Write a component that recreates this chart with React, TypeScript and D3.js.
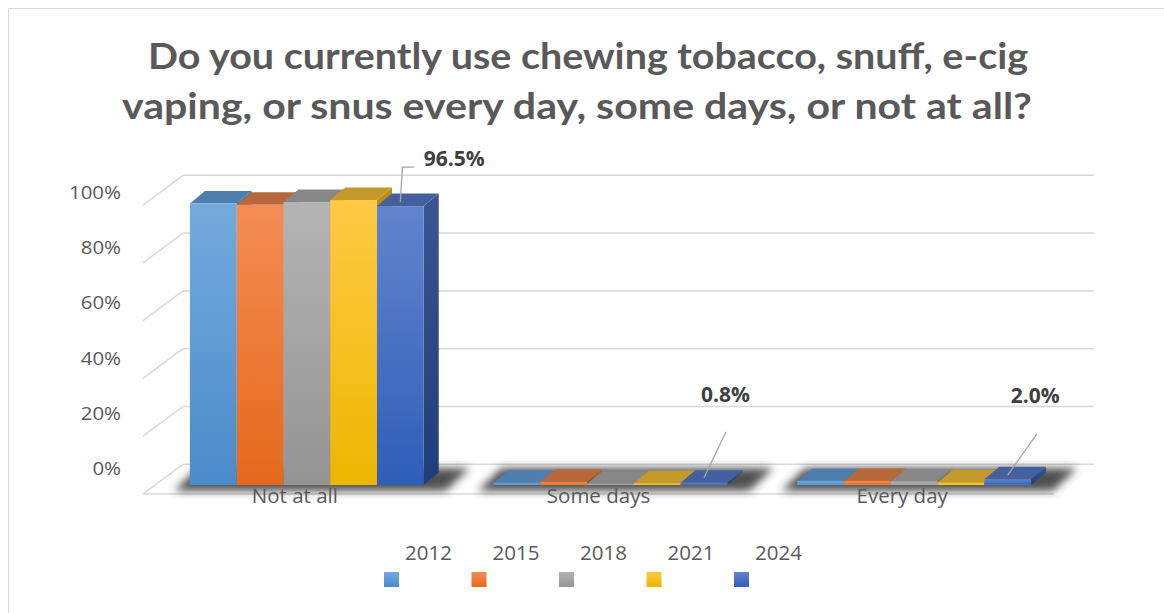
import React from "react";
import * as d3 from "d3";

const categories = ["Not at all", "Some days", "Every day"];
const years = ["2012", "2015", "2018", "2021", "2024"];
const values2012 = [97.4, 0.8, 1.4];
const values2015 = [97.0, 1.1, 1.4];
const values2018 = [97.9, 0.4, 1.3];
const values2021 = [98.6, 0.6, 0.9];
const values2024 = [96.5, 0.8, 2.0];
const seriesValues = [values2012, values2015, values2018, values2021, values2024];
const ticks = [0, 20, 40, 60, 80, 100];
const labelled = [
  { cat: 0, year: 4, text: "96.5%" },
  { cat: 1, year: 4, text: "0.8%" },
  { cat: 2, year: 4, text: "2.0%" },
];

const palette = [
  { ft: "#74abde", fb: "#4a8bcb", top: "#4e7eae", st: "#3f6d9c", sb: "#2d5a88", edge: "#5b9bd5" },
  { ft: "#f48d55", fb: "#e4691b", top: "#b8693c", st: "#b45d27", sb: "#9a4c19", edge: "#ed7d31" },
  { ft: "#b4b4b4", fb: "#949494", top: "#878787", st: "#7c7c7c", sb: "#6a6a6a", edge: "#a5a5a5" },
  { ft: "#ffca45", fb: "#ebb700", top: "#c49a2b", st: "#b98f16", sb: "#9e7a08", edge: "#ffc000" },
  { ft: "#6384cd", fb: "#2e5eb8", top: "#44609f", st: "#3a5690", sb: "#1f3d78", edge: "#4472c4" },
];

const FONT = "'Open Sans', 'DejaVu Sans', sans-serif";
const TITLE_FONT = "Lato, 'Open Sans', sans-serif";

export default function App() {
  const W = 1164, H = 613;
  const WDX = 40; // floor/wall depth x offset
  const BDX = 15, BDY = -12.5; // bar depth
  const wallY = d3.scaleLinear().domain([0, 100]).range([464.3, 175.3]);
  const frontY = d3.scaleLinear().domain([0, 100]).range([494, 205]);
  const barY = d3.scaleLinear().domain([0, 100]).range([485, 196]);
  const tickLabelY = d3.scaleLinear().domain([0, 100]).range([475, 199]);
  const floorLeft = 143, floorRight = 1054;
  const xBand = d3.scaleBand<string>().domain(categories).range([155, 1066]).paddingInner(0.23).paddingOuter(0.115);
  const yearBand = d3.scaleBand<string>().domain(years).range([0, xBand.bandwidth()]);

  const pts = (a: number[][]) => a.map((p) => p.join(",")).join(" ");

  const labelOffsets = [
    { tx: 23.5, ty: -40.6, path: (x: number, y: number) => `M${x},${y - 4}L${x + 2},${y - 39}L${x + 13.5},${y - 39}`, anchor: "start" },
    { tx: 21.5, ty: -81, path: (x: number, y: number) => `M${x},${y - 5}L${x + 22},${y - 51}`, anchor: "middle" },
    { tx: 27.5, ty: -76.5, path: (x: number, y: number) => `M${x},${y - 4}L${x + 29},${y - 45}`, anchor: "middle" },
  ];

  return (
    <svg width={W} height={H} style={{ position: "absolute", left: 0, top: 0, background: "#fff" }}>
      <defs>
        {palette.map((c, i) => (
          <linearGradient key={"f" + i} id={"front" + i} x1="0" y1="0" x2="0" y2="1">
            <stop offset="0" stopColor={c.ft} />
            <stop offset="1" stopColor={c.fb} />
          </linearGradient>
        ))}
        {palette.map((c, i) => (
          <linearGradient key={"s" + i} id={"side" + i} x1="0" y1="0" x2="0" y2="1">
            <stop offset="0" stopColor={c.st} />
            <stop offset="1" stopColor={c.sb} />
          </linearGradient>
        ))}
        <filter id="shadowBlur" x="-20%" y="-100%" width="140%" height="300%">
          <feGaussianBlur stdDeviation="4" />
        </filter>
      </defs>
      {/* chart frame */}
      <path d={`M8.5,${H + 5}L8.5,8.5L${W + 5},8.5`} fill="none" stroke="#d9d9d9" strokeWidth={1} />

      {/* title */}
      <text x={148} y={69} textLength={880} lengthAdjust="spacingAndGlyphs" fontFamily={TITLE_FONT} fontWeight="bold" fontSize={37} fill="#595959">
        Do you currently use chewing tobacco, snuff, e-cig
      </text>
      <text x={122} y={119} textLength={910} lengthAdjust="spacingAndGlyphs" fontFamily={TITLE_FONT} fontWeight="bold" fontSize={37} fill="#595959">
        vaping, or snus every day, some days, or not at all?
      </text>

      {/* walls & floor gridlines */}
      {ticks.map((t) => (
        <g key={"g" + t} stroke="#d9d9d9" strokeWidth={1.5} fill="none">
          <line x1={floorLeft + WDX} y1={wallY(t)} x2={floorRight + WDX} y2={wallY(t)} />
          <line x1={floorLeft} y1={frontY(t)} x2={floorLeft + WDX} y2={wallY(t)} />
        </g>
      ))}
      <line x1={floorLeft} y1={frontY(0)} x2={floorRight} y2={frontY(0)} stroke="#d9d9d9" strokeWidth={1.5} />

      {/* tick labels */}
      {ticks.map((t) => (
        <text key={"t" + t} transform={`translate(121,${tickLabelY(t)}) scale(1.17,1)`} textAnchor="end" fontFamily={FONT} fontSize={17.5} fill="#595959">
          {t + "%"}
        </text>
      ))}

      {/* floor shadows */}
      {categories.map((c) => {
        const gx = xBand(c)!;
        const gw = xBand.bandwidth();
        return (
          <polygon
            key={"sh" + c}
            points={pts([
              [gx - 16, 491],
              [gx + gw + 22, 491],
              [gx + gw + 46, 468],
              [gx + 8, 468],
            ])}
            fill="#333"
            opacity={0.85}
            filter="url(#shadowBlur)"
          />
        );
      })}

      {/* bars */}
      {categories.map((c, ci) => (
        <g key={"bars" + c}>
          {years.map((yr, yi) => {
            const v = seriesValues[yi][ci];
            const x0 = xBand(c)! + yearBand(yr)!;
            const x1 = x0 + yearBand.bandwidth();
            const yb = barY(0);
            const yt = barY(v);
            const col = palette[yi];
            return (
              <g key={yr}>
                <polygon points={pts([[x1, yt], [x1 + BDX, yt + BDY], [x1 + BDX, yb + BDY], [x1, yb]])} fill={`url(#side${yi})`} />
                <polygon points={pts([[x0, yt], [x0 + BDX, yt + BDY], [x1 + BDX, yt + BDY], [x1, yt]])} fill={col.top} />
                <rect x={x0} y={yt} width={x1 - x0} height={Math.max(yb - yt, 0.5)} fill={`url(#front${yi})`} />
                {yb - yt < 8 && <rect x={x0} y={yb - 1.2} width={x1 - x0} height={1.2} fill={col.edge} />}
              </g>
            );
          })}
        </g>
      ))}

      {/* category labels */}
      {categories.map((c) => (
        <text key={"cl" + c} x={xBand(c)! + xBand.bandwidth() / 2 - 12} y={503} textAnchor="middle" fontFamily={FONT} fontSize={20.5} fill="#595959">
          {c}
        </text>
      ))}

      {/* data labels */}
      {labelled.map((l, i) => {
        const c = categories[l.cat];
        const yr = years[l.year];
        const cx = xBand(c)! + yearBand(yr)! + yearBand.bandwidth() / 2;
        const yt = barY(seriesValues[l.year][l.cat]);
        const o = labelOffsets[i];
        return (
          <g key={"dl" + i}>
            <path d={o.path(cx, yt)} fill="none" stroke="#a6a6a6" strokeWidth={1.3} />
            <text x={cx + o.tx} y={yt + o.ty} textAnchor={o.anchor as any} fontFamily={FONT} fontWeight="bold" fontSize={21} fill="#404040">
              {l.text}
            </text>
          </g>
        );
      })}

      {/* legend */}
      {years.map((yr, i) => (
        <g key={"lg" + yr}>
          <text x={428.5 + i * 87.5} y={560} textAnchor="middle" fontFamily={FONT} fontSize={20.5} fill="#595959">
            {yr}
          </text>
          <rect x={384 + i * 87.5} y={572} width={15} height={15} fill={`url(#front${i})`} />
        </g>
      ))}
    </svg>
  );
}
